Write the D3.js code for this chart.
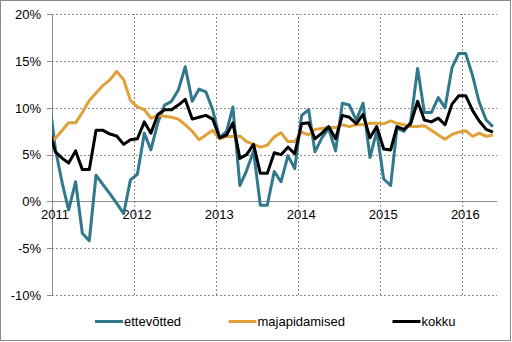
<!DOCTYPE html>
<html>
<head>
<meta charset="utf-8">
<script src="https://cdn.jsdelivr.net/npm/d3@7"></script>
<style>
  html, body { margin: 0; padding: 0; background: #fff; }
  svg { display: block; font-family: "Liberation Sans", Arial, sans-serif; }
</style>
</head>
<body>
<svg id="chart" width="512" height="342"></svg>
<script>
// Monthly observations, Dec 2010 – May 2016
const months = [
  "2010-12",
  "2011-01","2011-02","2011-03","2011-04","2011-05","2011-06","2011-07","2011-08","2011-09","2011-10","2011-11","2011-12",
  "2012-01","2012-02","2012-03","2012-04","2012-05","2012-06","2012-07","2012-08","2012-09","2012-10","2012-11","2012-12",
  "2013-01","2013-02","2013-03","2013-04","2013-05","2013-06","2013-07","2013-08","2013-09","2013-10","2013-11","2013-12",
  "2014-01","2014-02","2014-03","2014-04","2014-05","2014-06","2014-07","2014-08","2014-09","2014-10","2014-11","2014-12",
  "2015-01","2015-02","2015-03","2015-04","2015-05","2015-06","2015-07","2015-08","2015-09","2015-10","2015-11","2015-12",
  "2016-01","2016-02","2016-03","2016-04","2016-05"
];

const ettevotted = [
  11.6,
  5.6, 1.9, -0.9, 2.1, -3.4, -4.2, 2.8, 1.8, 0.8, -0.2, -1.3, 2.3,
  2.9, 7.3, 5.5, 8.4, 10.3, 10.7, 11.9, 14.4, 10.7, 12.0, 11.7, 9.8,
  6.8, 7.5, 10.1, 1.7, 3.3, 5.4, -0.4, -0.4, 3.2, 2.1, 4.9, 3.5,
  9.2, 9.8, 5.3, 6.8, 7.8, 5.4, 10.5, 10.3, 8.7, 10.5, 4.7, 7.5,
  2.4, 1.7, 7.8, 7.5, 8.5, 14.2, 9.5, 9.5, 11.1, 10.0, 14.3, 15.8,
  15.8, 13.4, 10.6, 8.7, 8.0
];

const majapidamised = [
  5.9,
  6.75, 7.6, 8.4, 8.4, 9.5, 10.8, 11.6, 12.4, 13.0, 13.9, 13.0, 10.8,
  10.1, 9.8, 8.9, 9.2, 9.1, 9.0, 8.8, 8.2, 7.5, 6.6, 7.1, 7.6,
  6.7, 6.95, 6.95, 7.0, 6.4, 6.1, 5.8, 6.0, 6.9, 7.35, 6.4, 6.4,
  7.4, 7.1, 7.7, 7.8, 7.9, 7.9, 8.2, 8.0, 8.2, 8.2, 8.35, 8.35,
  8.3, 8.6, 8.35, 8.2, 8.0, 8.0, 8.1, 7.6, 7.1, 6.65, 7.15, 7.4,
  7.55, 6.95, 7.3, 6.95, 7.1
];

const kokku = [
  7.9,
  5.3, 4.6, 4.1, 5.4, 3.4, 3.4, 7.6, 7.6, 7.2, 7.0, 6.1, 6.6,
  6.7, 8.5, 7.3, 9.3, 9.8, 9.8, 10.3, 10.9, 8.8, 9.0, 9.2, 8.8,
  6.8, 7.1, 8.4, 4.6, 5.0, 6.1, 3.0, 3.0, 5.2, 5.0, 5.8, 5.1,
  8.3, 8.4, 6.7, 7.3, 8.0, 6.7, 9.2, 9.0, 8.3, 9.3, 6.8, 8.0,
  5.6, 5.5, 8.0, 7.7, 8.3, 10.7, 8.7, 8.5, 8.9, 8.2, 10.4, 11.3,
  11.3, 9.7, 8.6, 7.7, 7.4
];

const yTicks = [-10, -5, 0, 5, 10, 15, 20];
const yearTicks = [2011, 2012, 2013, 2014, 2015, 2016];

const seriesNames = ["ettevõtted", "majapidamised", "kokku"];
const seriesColors = ["#31788d", "#dfa23a", "#000000"];
const seriesValues = [ettevotted, majapidamised, kokku];

const svg = d3.select("#chart");
const W = 512, H = 342;
const plot = { left: 52, right: 496.5, top: 14.3, bottom: 295 };

// outer frame
svg.append("rect")
  .attr("x", 0.5).attr("y", 0.5).attr("width", 510).attr("height", 340)
  .attr("fill", "#fff").attr("stroke", "#8a8a8a").attr("stroke-width", 1);

const parseMonth = d3.timeParse("%Y-%m");
// each monthly value sits in the middle of its month
const dates = months.map(m => d3.timeDay.offset(parseMonth(m), 15));

const x = d3.scaleTime()
  .domain([new Date(2011, 0, 1), new Date(2016, 5, 1)])
  .range([plot.left, plot.right]);

const y = d3.scaleLinear()
  .domain([-10, 20])
  .range([plot.bottom, plot.top]);

const gridColor = "#8c8c8c";

// horizontal gridlines
const gy = svg.append("g")
  .attr("transform", `translate(${plot.left},0)`)
  .call(d3.axisLeft(y).tickValues(yTicks).tickSize(-(plot.right - plot.left)).tickFormat(""));
gy.select(".domain").remove();
gy.selectAll(".tick line")
  .attr("stroke", gridColor)
  .attr("stroke-dasharray", d => d === 0 ? null : "2,2")
  .attr("shape-rendering", "crispEdges");

// vertical gridlines at each year
const yearDates = yearTicks.map(yr => new Date(yr, 0, 1));
const gx = svg.append("g")
  .attr("transform", `translate(0,${plot.bottom})`)
  .call(d3.axisBottom(x).tickValues(yearDates).tickSize(-(plot.bottom - plot.top)).tickFormat(""));
gx.select(".domain").remove();
gx.selectAll(".tick line")
  .attr("stroke", gridColor)
  .attr("stroke-dasharray", (d, i) => i === 0 ? null : "2,2")
  .attr("shape-rendering", "crispEdges");

// left axis with outer ticks and percent labels
const ax = svg.append("g")
  .attr("transform", `translate(${plot.left},0)`)
  .call(d3.axisLeft(y).tickValues(yTicks).tickSize(5).tickPadding(6)
    .tickFormat(d => d + "%"));
ax.select(".domain").attr("stroke", gridColor).attr("shape-rendering", "crispEdges");
ax.selectAll(".tick line").attr("stroke", gridColor).attr("shape-rendering", "crispEdges");
ax.selectAll(".tick text")
  .attr("font-size", 13).attr("fill", "#000")
  .attr("font-family", "'Liberation Sans', Arial, sans-serif");

// year labels just under the zero line
const xl = svg.append("g")
  .attr("transform", `translate(2.5,${y(0)})`)
  .call(d3.axisBottom(x).tickValues(yearDates).tickSize(0).tickPadding(8)
    .tickFormat(d3.timeFormat("%Y")));
xl.select(".domain").remove();
xl.selectAll(".tick text")
  .attr("font-size", 13).attr("fill", "#000")
  .attr("font-family", "'Liberation Sans', Arial, sans-serif");

// clip series to the plot area
svg.append("defs").append("clipPath").attr("id", "plotclip")
  .append("rect")
  .attr("x", plot.left).attr("y", 0)
  .attr("width", plot.right - plot.left).attr("height", H);

const line = d3.line()
  .x((d, i) => x(dates[i]))
  .y(d => y(d));

const lines = svg.append("g").attr("clip-path", "url(#plotclip)");
seriesValues.forEach((vals, s) => {
  lines.append("path")
    .datum(vals)
    .attr("d", line)
    .attr("fill", "none")
    .attr("stroke", seriesColors[s])
    .attr("stroke-width", 3)
    .attr("stroke-linejoin", "round");
});

// legend
const legendX = [95, 228.5, 392.5];
const legendY = 321.5;
const lg = svg.append("g");
seriesNames.forEach((name, s) => {
  lg.append("line")
    .attr("x1", legendX[s]).attr("x2", legendX[s] + 28)
    .attr("y1", legendY).attr("y2", legendY)
    .attr("stroke", seriesColors[s]).attr("stroke-width", 3);
  lg.append("text")
    .attr("x", legendX[s] + 29).attr("y", legendY + 4.5)
    .attr("font-size", 13).attr("fill", "#000")
    .text(name);
});
</script>
</body>
</html>
